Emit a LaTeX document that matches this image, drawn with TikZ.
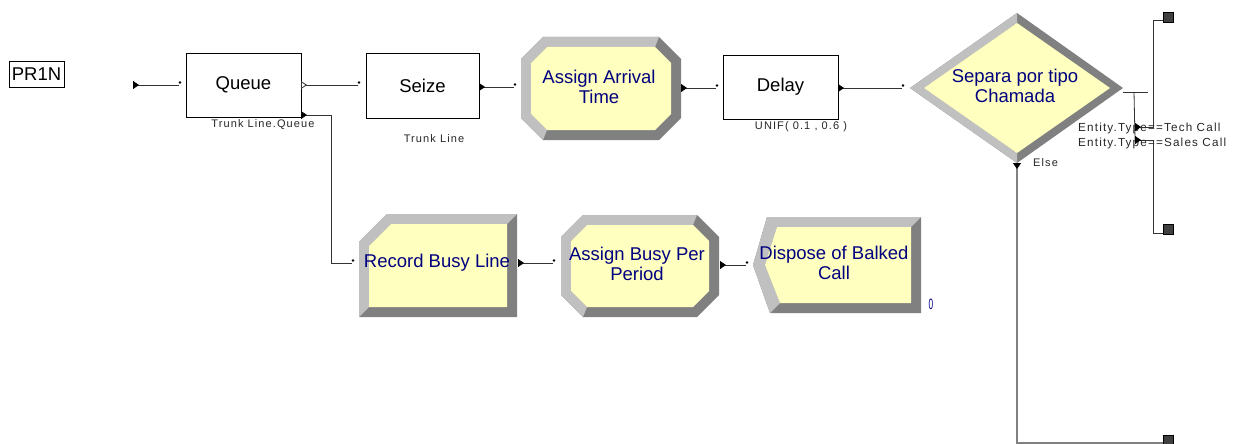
\documentclass[tikz,border=0pt]{standalone}
\usepackage{fontspec}
\setmainfont{Liberation Sans}
\newfontfamily\lblfont[LetterSpace=10]{Liberation Sans}
\usetikzlibrary{arrows.meta, positioning}

\definecolor{modfill}{RGB}{255,255,192}
\definecolor{navytxt}{RGB}{0,0,128}
\definecolor{bevlight}{RGB}{192,192,192}
\definecolor{bevdark}{RGB}{128,128,128}
\definecolor{sinkfill}{RGB}{64,64,64}

% bevelled octagon: x0, y0, x1, y1, corner cut
\newcommand{\octshape}[5]{%
  \fill[bevdark] ({#1+#5},#2) -- ({#3-#5},#2) -- (#3,{#2+#5}) -- (#3,{#4-#5})
    -- ({#3-#5},#4) -- ({#1+#5},#4) -- (#1,{#4-#5}) -- (#1,{#2+#5}) -- cycle;
  \fill[bevlight] ({#1+#5},#4) -- (#1,{#4-#5}) -- (#1,{#2+#5}) -- ({#1+#5},#2)
    -- ({#3-#5},#2) -- ({#3-#5-4},{#2+10}) -- ({#1+#5+4},{#2+10})
    -- ({#1+10},{#2+#5+4}) -- ({#1+10},{#4-#5-4}) -- ({#1+#5+4},{#4-10}) -- cycle;
  \fill[modfill] ({#1+#5+4},{#2+10}) -- ({#3-#5-4},{#2+10}) -- ({#3-10},{#2+#5+4})
    -- ({#3-10},{#4-#5-4}) -- ({#3-#5-4},{#4-10}) -- ({#1+#5+4},{#4-10})
    -- ({#1+10},{#4-#5-4}) -- ({#1+10},{#2+#5+4}) -- cycle;
}
% bevelled box with the top left corner cut: x0, y0, x1, y1, corner cut
\newcommand{\recshape}[5]{%
  \fill[bevdark] (#1,{#2+#5}) -- ({#1+#5},#2) -- (#3,#2) -- (#3,#4) -- (#1,#4) -- cycle;
  \fill[bevlight] (#1,#4) -- (#1,{#2+#5}) -- ({#1+#5},#2) -- (#3,#2) -- ({#3-10},{#2+10})
    -- ({#1+#5+4},{#2+10}) -- ({#1+10},{#2+#5+4}) -- ({#1+10},{#4-10}) -- cycle;
  \fill[modfill] ({#1+10},{#2+#5+4}) -- ({#1+#5+4},{#2+10}) -- ({#3-10},{#2+10})
    -- ({#3-10},{#4-10}) -- ({#1+10},{#4-10}) -- cycle;
}

\begin{document}
\begin{tikzpicture}[
    x=1pt, y=-1pt,
    box/.style={draw, line width=0.8pt, minimum width=115pt, minimum height=64pt, font=\fontsize{18.5}{20}\selectfont},
    modtext/.style={align=center, text=navytxt, inner sep=0pt, font=\fontsize{18.5}{19.5}\selectfont},
    lbl/.style={inner sep=0pt, text=black!85, font=\lblfont\fontsize{11}{12}\selectfont},
    conn/.style={line width=0.8pt, black!80},
    exitline/.style={conn, {Triangle[reversed, length=6pt, width=8pt, color=black]}-},
    openexit/.style={conn, {Triangle[reversed, open, length=6pt, width=8pt, fill=white]}-},
    entrydot/.style={circle, fill=black, inner sep=0pt, minimum size=2.6pt, xshift=1pt, yshift=2.5pt},
    sink/.style={draw=black, fill=sinkfill, minimum size=10pt, inner sep=0pt}
]
    \useasboundingbox (0,0) rectangle (1236,444);

    % bevelled modules
    \octshape{521}{37}{681}{140}{22}
    \recshape{359}{214}{517}{317}{28}
    \octshape{561}{215}{719}{317}{22}
    \fill[bevdark] (767,217) -- (921,217) -- (921,313) -- (770,313) -- (753,265) -- cycle;
    \fill[bevlight] (770,313) -- (753,265) -- (767,217) -- (921,217) -- (911,227)
        -- (777,227) -- (765,265) -- (780,303) -- cycle;
    \fill[modfill] (777,227) -- (911,227) -- (911,303) -- (780,303) -- (765,265) -- cycle;
    \fill[bevdark] (910,88) -- (1017,13) -- (1123,88) -- (1017,163) -- cycle;
    \fill[bevlight] (1017,163) -- (910,88) -- (1017,13) -- (1017,23) -- (924,88) -- (1017,153) -- cycle;
    \fill[modfill] (924,88) -- (1017,23) -- (1110,88) -- (1017,153) -- cycle;

    \node[draw, line width=0.6pt, minimum width=55pt, minimum height=26pt, inner sep=0pt,
        font=\fontsize{18.5}{20}\selectfont] (pr1n) at (36.5,74) {PR1N};

    \node[box] (queue) at (243.5,85) {Queue};
    \node[lbl] (queuelbl) at (263,125) {Trunk Line.Queue};
    \node[box, minimum width=113pt, minimum height=65pt] (seize) at (422.5,85.5) {Seize};
    \node[lbl] (seizelbl) at (434,139) {Trunk Line};
    \node[modtext] (assignarr) at (599,87) {Assign Arrival\\Time};
    \node[box] (delay) at (780.5,87) {Delay};
    \node[lbl] (delaylbl) at (801,127) {UNIF( 0.1 , 0.6 )};
    \node[modtext] (separa) at (1015,86) {Separa por tipo\\Chamada};
    \node[modtext] (record) at (437,263) {Record Busy Line};
    \node[modtext] (assignbusy) at (637,264) {Assign Busy Per\\Period};
    \node[modtext] (dispose) at (834,263) {Dispose of Balked\\Call};
    \node[inner sep=0pt, text=navytxt, font=\fontsize{15}{15}\selectfont] (disposecnt) at (931,304) {\scalebox{0.55}[1]{0}};

    \node[lbl, anchor=west, font=\lblfont\fontsize{11.7}{12}\selectfont] (techlbl) at (1078,128) {Entity.Type==Tech Call};
    \node[lbl, anchor=west, font=\lblfont\fontsize{11.7}{12}\selectfont] (saleslbl) at (1078,143) {Entity.Type==Sales Call};
    \node[lbl, anchor=west] (elselbl) at (1033,163) {Else};

    \node[sink] (techsink) at (1168,17) {};
    \node[sink] (salessink) at (1168,229) {};
    \node[sink] (elsesink) at (1168,440) {};

    % ports
    \coordinate (srcout) at (133,85);
    \coordinate (queuein) at (179,85);
    \coordinate (queueout) at (301,85);
    \coordinate (queuebalk) at (301,115);
    \coordinate (seizein) at (358,85);
    \coordinate (seizeout) at (479,87);
    \coordinate (assignarrin) at (514,87);
    \coordinate (assignarrout) at (681,88);
    \coordinate (delayin) at (716,88);
    \coordinate (delayout) at (838,88);
    \coordinate (separain) at (902,88);
    \coordinate (separaout) at (1123,92);
    \coordinate (separastub) at (1148,92);
    \coordinate (separabus) at (1134,92);
    \coordinate (techout) at (1135,127);
    \coordinate (salesout) at (1135,140);
    \coordinate (elseout) at (1017,163);
    \coordinate (recordin) at (352,263);
    \coordinate (recordout) at (518,263);
    \coordinate (assignbusyin) at (553,263);
    \coordinate (assignbusyout) at (720,265);
    \coordinate (disposein) at (746,265);

    % connections
    \draw[exitline] (srcout) -- (queuein) node[entrydot] {};
    \draw[openexit] (queueout) -- (seizein) node[entrydot] {};
    \draw[exitline] (queuebalk) -- ++(30,0) |- (recordin) node[entrydot] {};
    \draw[exitline] (seizeout) -- (assignarrin) node[entrydot] {};
    \draw[exitline] (assignarrout) -- (delayin) node[entrydot] {};
    \draw[exitline] (delayout) -- (separain) node[entrydot] {};
    \draw[exitline] (recordout) -- (assignbusyin) node[entrydot] {};
    \draw[exitline] (assignbusyout) -- (disposein) node[entrydot] {};

    \draw[conn] (separaout) -- (separastub);
    \draw[conn] (separabus) -- (salesout);
    \draw[exitline] (techout) -- ++(18,0) |- ([yshift=-3pt]techsink.west);
    \draw[exitline] (salesout) -- ++(18,0) |- ([yshift=-4pt]salessink.west);
    \draw[exitline, black!50, line width=1.2pt] (elseout) |- ([yshift=-3pt]elsesink.west);
\end{tikzpicture}
\end{document}
